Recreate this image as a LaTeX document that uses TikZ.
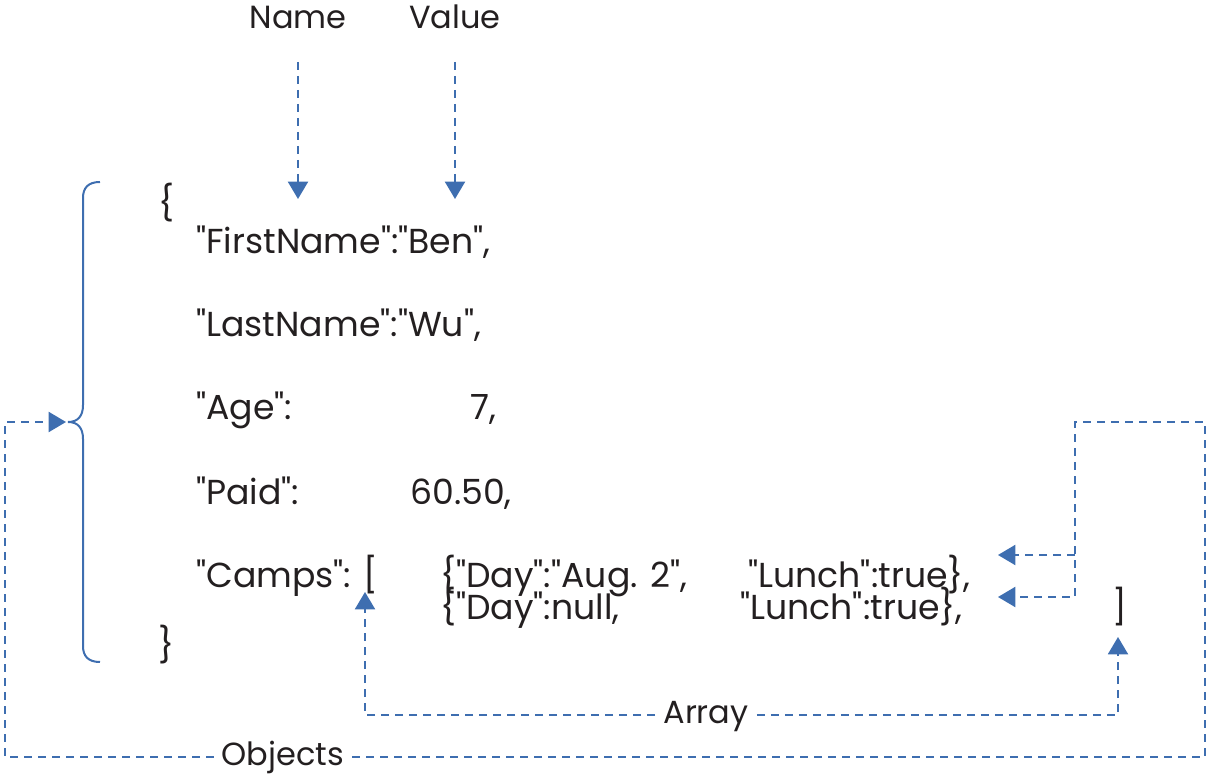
\documentclass[tikz,border=0pt]{standalone}
\usepackage{fontspec}
\setmainfont{Poppins}[Ligatures=TeXOff]
\usetikzlibrary{arrows.meta}
\definecolor{jblue}{RGB}{62,110,176}
\definecolor{jtext}{RGB}{35,31,32}
\begin{document}
\begin{tikzpicture}[x=0.75pt,y=-0.75pt,
  jt/.style={anchor=base west,inner sep=0pt,text=jtext,font=\fontsize{26}{30}\selectfont},
  lbl/.style={anchor=base,inner sep=6pt,text=jtext,font=\fontsize{24}{28}\selectfont},
  dl/.style={draw=jblue,line width=1.5pt,dash pattern=on 6pt off 4.5pt},
  arr/.style={dl,-{Triangle[length=13pt,width=15pt]}},
  brace/.style={draw=jblue,line width=1.5pt}]
\useasboundingbox (0,0) rectangle (1208,777);
% labels
\node[lbl] (name) at (298,29) {Name};
\node[lbl] (value) at (455,29) {Value};
\coordinate (nametop) at (298,62);
\coordinate (nametip) at (298,199);
\coordinate (valtop) at (455,62);
\coordinate (valtip) at (455,199);
\draw[arr] (nametop) -- (nametip);
\draw[arr] (valtop) -- (valtip);
% JSON text
\node[jt,anchor=center] (ob) at (167,203) {\{};
\node[jt] (l1) at (196,254) {"FirstName":"Ben",};
\node[jt] (l2) at (196,337) {"LastName":"Wu",};
\node[jt] (l3) at (196,420) {"Age":};
\node[jt] (l3v) at (470,420) {7,};
\node[jt] (l4) at (196,504) {"Paid":};
\node[jt] (l4v) at (410,504) {60.50,};
\node[jt] (l5) at (196,587) {"Camps": [};
\node[jt] (l5a) at (440,587) {\{"Day":"Aug. 2",};
\node[jt] (l5b) at (748,587) {"Lunch":true\},};
\node[jt] (l6a) at (440,619) {\{"Day":null,};
\node[jt] (l6b) at (740,619) {"Lunch":true\},};
\node[jt] (cb) at (1112,619) {]};
\node[jt,anchor=center] (cbr) at (167,645) {\}};
% brace
\draw[brace] (100,182) .. controls (88,182) and (83,188) .. (83,198) -- (83,405)
  .. controls (83,416) and (78,422) .. (68,422)
  .. controls (78,422) and (83,428) .. (83,439) -- (83,646)
  .. controls (83,656) and (88,662) .. (100,662);
% Array
\node[lbl] (array) at (706,723) {Array};
\coordinate (aL) at (365,715);
\coordinate (aLtip) at (365,592);
\coordinate (aR) at (1118,715);
\coordinate (aRtip) at (1118,637);
\draw[arr] (array.west |- aL) -- (aL) -- (aLtip);
\draw[arr] (array.east |- aR) -- (aR) -- (aRtip);
% Objects
\node[lbl] (objects) at (283,765) {Objects};
\coordinate (oBL) at (5,757);
\coordinate (oTL) at (5,422);
\coordinate (oTip) at (66,422);
\coordinate (oBR) at (1205,757);
\coordinate (oTR) at (1205,422);
\coordinate (oM) at (1075,422);
\coordinate (oJ1) at (1075,555);
\coordinate (oJ2) at (1075,597);
\coordinate (oTip1) at (998,555);
\coordinate (oTip2) at (998,597);
\draw[arr] (objects.west |- oBL) -- (oBL) -- (oTL) -- (oTip);
\draw[arr] (objects.east |- oBR) -- (oBR) -- (oTR) -- (oM) -- (oJ2) -- (oTip2);
\draw[arr] (oJ1) -- (oTip1);
\end{tikzpicture}
\end{document}
